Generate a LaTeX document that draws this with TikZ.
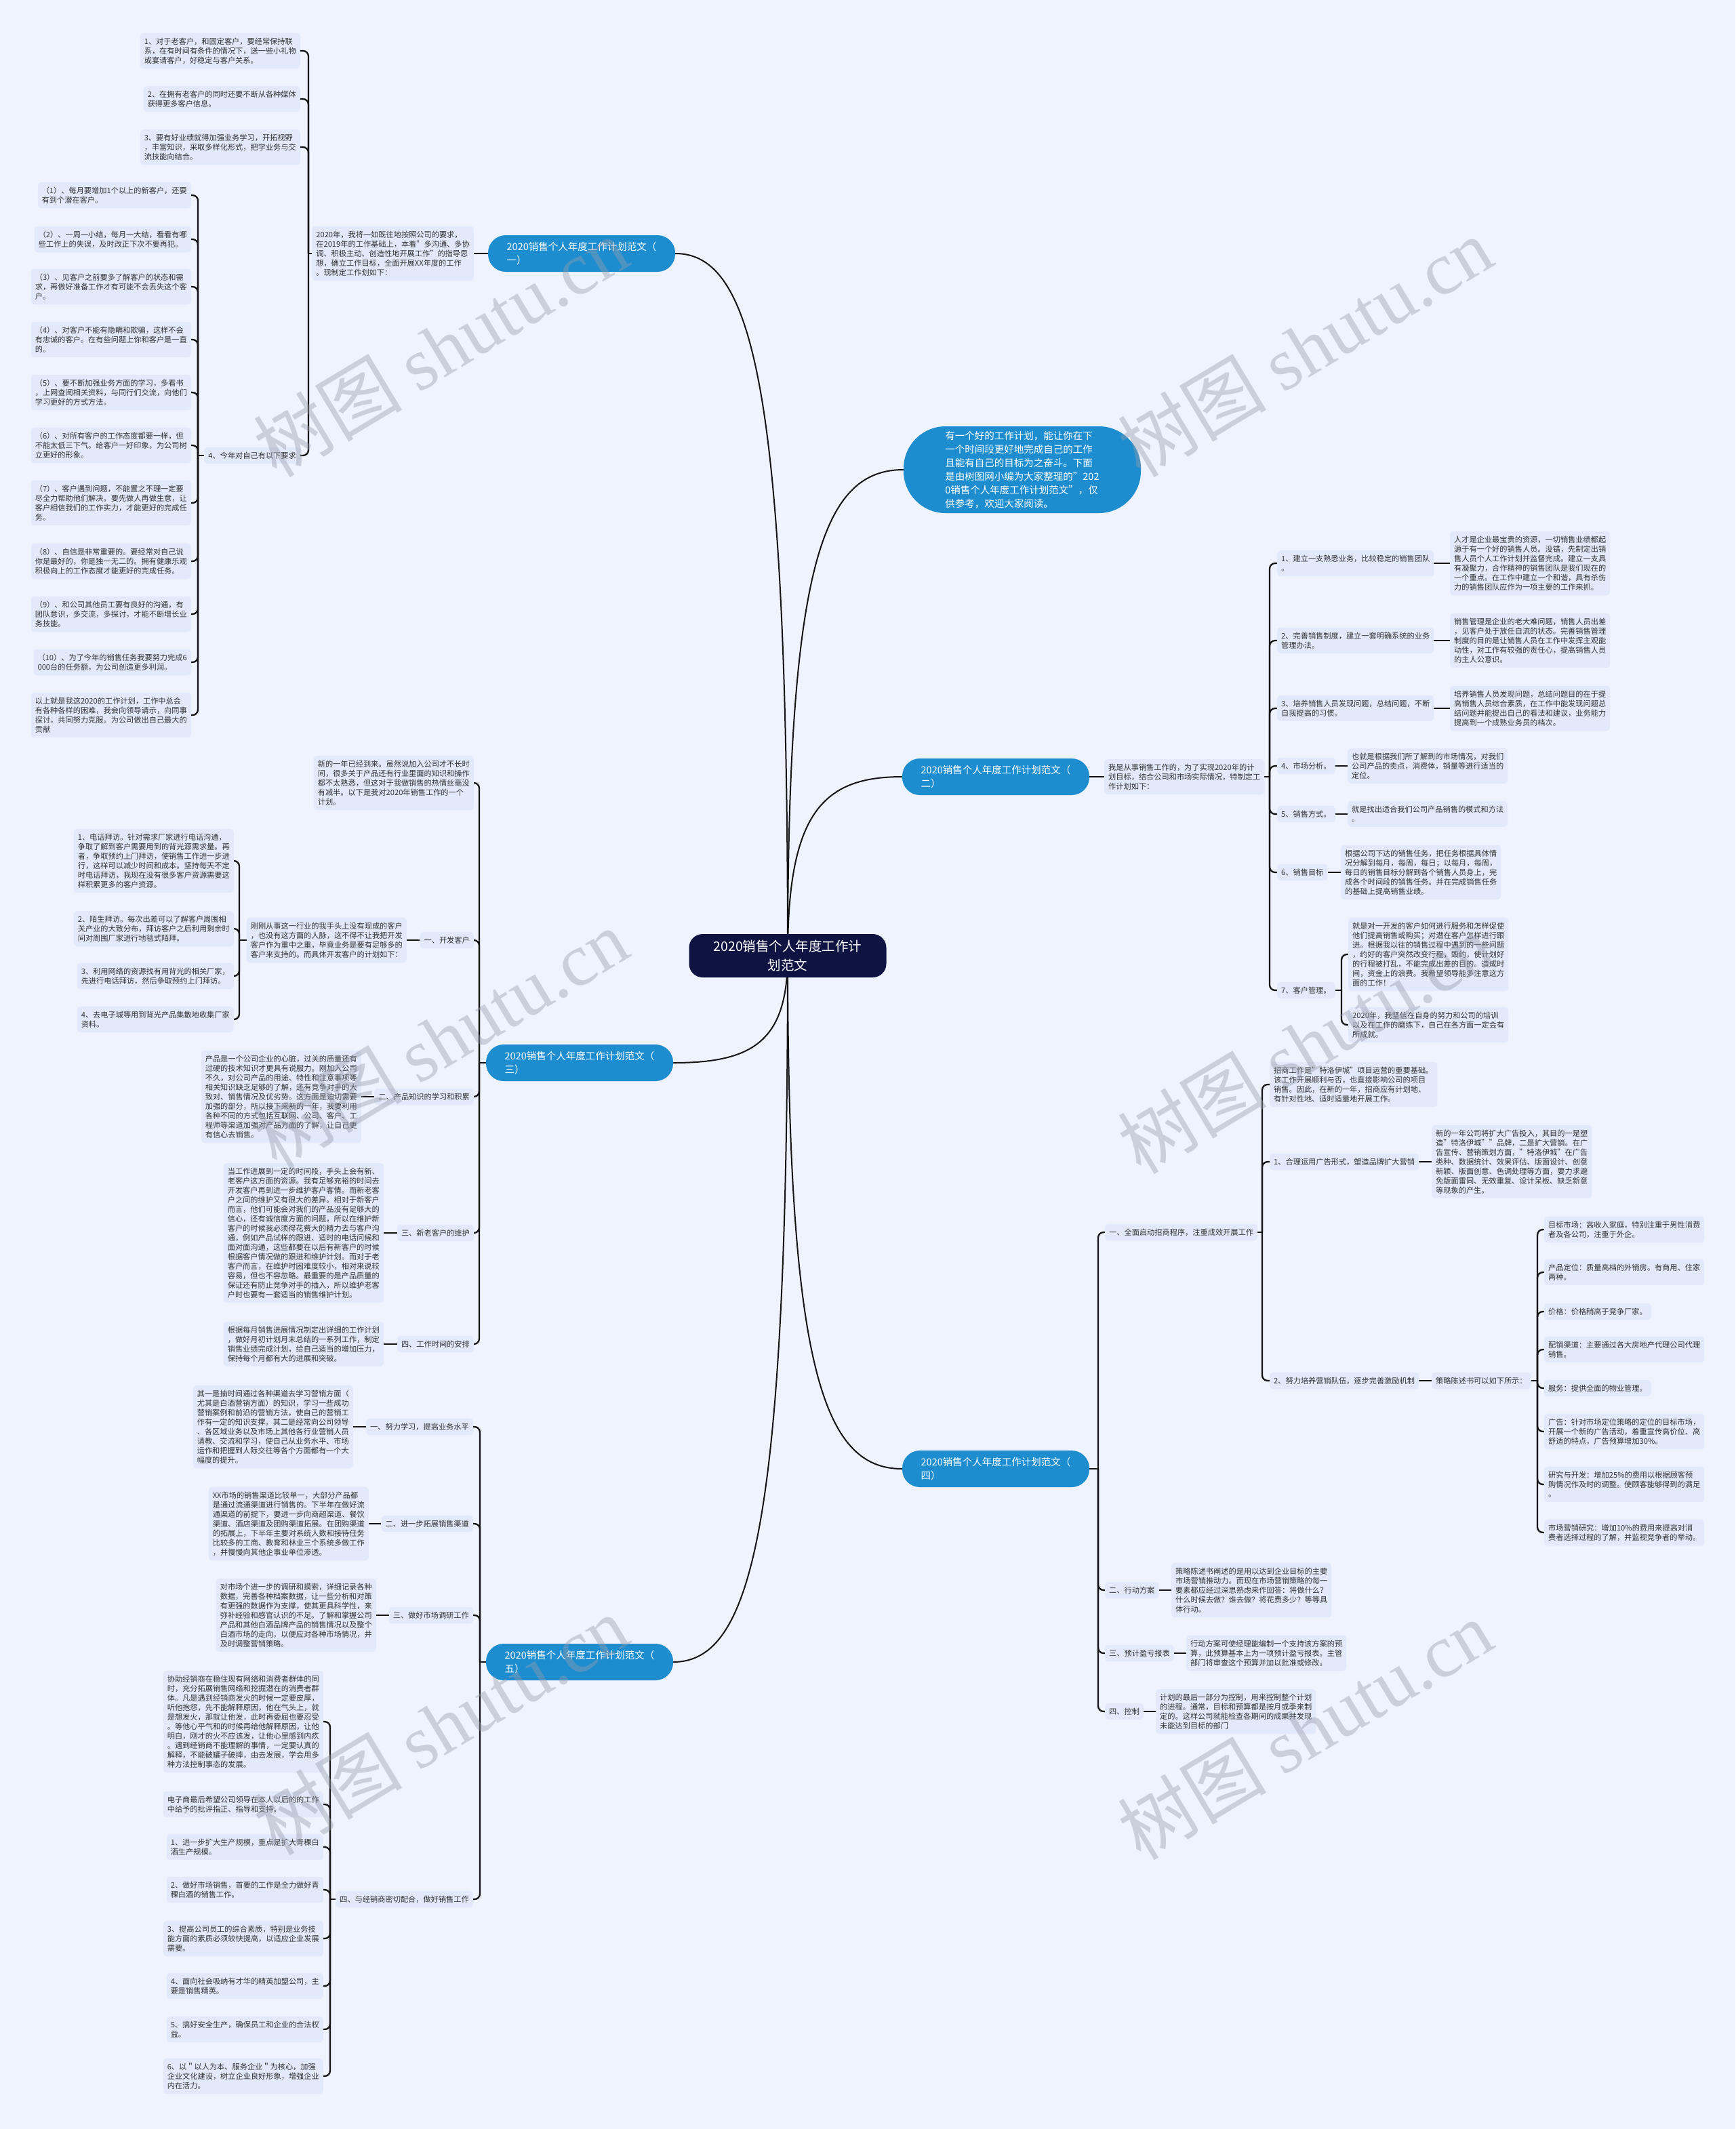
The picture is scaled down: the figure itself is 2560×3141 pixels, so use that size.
\documentclass[tikz,border=0pt]{standalone}
\usepackage{fontspec}
\setmainfont{Noto Sans CJK SC}
\newfontfamily\wmlat{Liberation Serif}
\definecolor{bgc}{RGB}{238,243,253}
\definecolor{boxc}{RGB}{225,233,250}
\definecolor{bluec}{RGB}{29,141,208}
\definecolor{navyc}{RGB}{15,19,66}
\definecolor{txtc}{RGB}{51,51,51}
\definecolor{linec}{RGB}{20,20,20}
\definecolor{wmc}{RGB}{150,158,172}
\pgfdeclarelayer{bg}
\pgfsetlayers{bg,main}
\newcommand\fsml{\fontsize{11.2pt}{14pt}\selectfont}
\newcommand\fbr{\fontsize{14.5pt}{20pt}\selectfont}
\newcommand\fctr{\fontsize{19.5pt}{28pt}\selectfont}
\newcommand\fwm{\fontsize{110pt}{110pt}\selectfont}
\begin{document}
\begin{tikzpicture}[x=1pt,y=-1pt,
 tbox/.style={fill=boxc, rounded corners=5pt, inner xsep=6pt, inner ysep=7pt, align=left, font=\fsml, text=txtc},
 branch/.style={fill=bluec, rounded corners=26pt, minimum width=276pt, minimum height=54pt, inner xsep=24pt, align=left, font=\fbr, text=white},
 conn/.style={draw=linec, line width=2.3pt, rounded corners=8pt},
 mainline/.style={draw=linec, line width=2pt},
 wm/.style={text=wmc, opacity=0.42, rotate=31, font=\fwm}]

% ---------- center ----------
\node[fill=navyc, rounded corners=20pt, minimum width=291pt, minimum height=64pt, align=center, text=white, font=\fctr] (ctr) at (1162,1410) {2020销售个人年度工作计\\划范文};

% ---------- intro ----------
\node[fill=bluec, rounded corners=62pt, minimum width=350pt, minimum height=128pt, align=left, text=white, font=\fbr] (intro) at (1508,693) {有一个好的工作计划，能让你在下\\一个时间段更好地完成自己的工作\\且能有自己的目标为之奋斗。下面\\是由树图网小编为大家整理的"202\\0销售个人年度工作计划范文"，仅\\供参考，欢迎大家阅读。};

% ---------- branch 1 ----------
\node[branch] (B1) at (858,374) {2020销售个人年度工作计划范文（\\一）};
\node[tbox,anchor=east] (T1) at (699,374) {2020年，我将一如既往地按照公司的要求，\\在2019年的工作基础上，本着"多沟通、多协\\调、积极主动、创造性地开展工作"的指导思\\想，确立工作目标，全面开展XX年度的工作\\。现制定工作划如下：};
\coordinate (sT1) at (455,374);
\node[tbox,anchor=east] (a1) at (443,75) {1、对于老客户，和固定客户，要经常保持联\\系，在有时间有条件的情况下，送一些小礼物\\或宴请客户，好稳定与客户关系。};
\node[tbox,anchor=east] (a2) at (443,146) {2、在拥有老客户的同时还要不断从各种媒体\\获得更多客户信息。};
\node[tbox,anchor=east] (a3) at (443,217) {3、要有好业绩就得加强业务学习，开拓视野\\，丰富知识，采取多样化形式，把学业务与交\\流技能向结合。};
\node[tbox,anchor=east] (a4) at (443,672) {4、今年对自己有以下要求};
\coordinate (sa4) at (292,672);
\node[tbox,anchor=east] (b1) at (282,288) {（1）、每月要增加1个以上的新客户，还要\\有到个潜在客户。};
\node[tbox,anchor=east] (b2) at (282,353) {（2）、一周一小结，每月一大结，看看有哪\\些工作上的失误，及时改正下次不要再犯。};
\node[tbox,anchor=east] (b3) at (282,423) {（3）、见客户之前要多了解客户的状态和需\\求，再做好准备工作才有可能不会丢失这个客\\户。};
\node[tbox,anchor=east] (b4) at (282,501) {（4）、对客户不能有隐瞒和欺骗，这样不会\\有忠诚的客户。在有些问题上你和客户是一直\\的。};
\node[tbox,anchor=east] (b5) at (282,579) {（5）、要不断加强业务方面的学习，多看书\\，上网查阅相关资料，与同行们交流，向他们\\学习更好的方式方法。};
\node[tbox,anchor=east] (b6) at (282,657) {（6）、对所有客户的工作态度都要一样，但\\不能太低三下气。给客户一好印象，为公司树\\立更好的形象。};
\node[tbox,anchor=east] (b7) at (282,742) {（7）、客户遇到问题，不能置之不理一定要\\尽全力帮助他们解决。要先做人再做生意，让\\客户相信我们的工作实力，才能更好的完成任\\务。};
\node[tbox,anchor=east] (b8) at (282,828) {（8）、自信是非常重要的。要经常对自己说\\你是最好的，你是独一无二的。拥有健康乐观\\积极向上的工作态度才能更好的完成任务。};
\node[tbox,anchor=east] (b9) at (282,906) {（9）、和公司其他员工要有良好的沟通，有\\团队意识，多交流，多探讨，才能不断增长业\\务技能。};
\node[tbox,anchor=east] (b10) at (282,977) {（10）、为了今年的销售任务我要努力完成6\\000台的任务额，为公司创造更多利润。};
\node[tbox,anchor=east] (b11) at (282,1055) {以上就是我这2020的工作计划，工作中总会\\有各种各样的困难，我会向领导请示，向同事\\探讨，共同努力克服。为公司做出自己最大的\\贡献};

% ---------- branch 2 ----------
\node[branch] (B2) at (1469,1146) {2020销售个人年度工作计划范文（\\二）};
\node[tbox,anchor=west] (T2) at (1629,1146) {我是从事销售工作的，为了实现2020年的计\\划目标，结合公司和市场实际情况，特制定工\\作计划如下：};
\coordinate (sT2) at (1873,1146);
\node[tbox,anchor=west] (c1) at (1884,831) {1、建立一支熟悉业务，比较稳定的销售团队\\。};
\node[tbox,anchor=west] (c2) at (1884,945) {2、完善销售制度，建立一套明确系统的业务\\管理办法。};
\node[tbox,anchor=west] (c3) at (1884,1045) {3、培养销售人员发现问题，总结问题，不断\\自我提高的习惯。};
\node[tbox,anchor=west] (c4) at (1884,1130) {4、市场分析。};
\node[tbox,anchor=west] (c5) at (1884,1201) {5、销售方式。};
\node[tbox,anchor=west] (c6) at (1884,1287) {6、销售目标};
\node[tbox,anchor=west] (c7) at (1884,1461) {7、客户管理。};
\node[tbox,anchor=west] (g1) at (2139,831) {人才是企业最宝贵的资源，一切销售业绩都起\\源于有一个好的销售人员。没错，先制定出销\\售人员个人工作计划并监督完成。建立一支具\\有凝聚力，合作精神的销售团队是我们现在的\\一个重点。在工作中建立一个和谐，具有杀伤\\力的销售团队应作为一项主要的工作来抓。};
\node[tbox,anchor=west] (g2) at (2139,945) {销售管理是企业的老大难问题，销售人员出差\\，见客户处于放任自流的状态。完善销售管理\\制度的目的是让销售人员在工作中发挥主观能\\动性，对工作有较强的责任心，提高销售人员\\的主人公意识。};
\node[tbox,anchor=west] (g3) at (2139,1045) {培养销售人员发现问题，总结问题目的在于提\\高销售人员综合素质，在工作中能发现问题总\\结问题并能提出自己的看法和建议，业务能力\\提高到一个成熟业务员的档次。};
\node[tbox,anchor=west] (g4) at (1988,1130) {也就是根据我们所了解到的市场情况，对我们\\公司产品的卖点，消费体，销量等进行适当的\\定位。};
\node[tbox,anchor=west] (g5) at (1988,1201) {就是找出适合我们公司产品销售的模式和方法\\。};
\node[tbox,anchor=west] (g6) at (1978,1287) {根据公司下达的销售任务，把任务根据具体情\\况分解到每月，每周，每日；以每月，每周，\\每日的销售目标分解到各个销售人员身上，完\\成各个时间段的销售任务。并在完成销售任务\\的基础上提高销售业绩。};
\coordinate (sc7) at (1979,1461);
\node[tbox,anchor=west] (g7a) at (1989,1408) {就是对一开发的客户如何进行服务和怎样促使\\他们提高销售或购买；对潜在客户怎样进行跟\\进。根据我以往的销售过程中遇到的一些问题\\，约好的客户突然改变行程，毁约，使计划好\\的行程被打乱，不能完成出差的目的。造成时\\间，资金上的浪费。我希望领导能多注意这方\\面的工作！};
\node[tbox,anchor=west] (g7b) at (1989,1512) {2020年，我坚信在自身的努力和公司的培训\\以及在工作的磨练下，自己在各方面一定会有\\所成就。};

% ---------- branch 3 ----------
\node[branch] (B3) at (855,1568) {2020销售个人年度工作计划范文（\\三）};
\coordinate (sB3) at (707,1568);
\node[tbox,anchor=east] (k0) at (699,1155) {新的一年已经到来。虽然说加入公司才不长时\\间，很多关于产品还有行业里面的知识和操作\\都不太熟悉，但这对于我做销售的热情丝毫没\\有减半。以下是我对2020年销售工作的一个\\计划。};
\node[tbox,anchor=east] (k1) at (699,1387) {一、开发客户};
\node[tbox,anchor=east] (k1t) at (600,1387) {刚刚从事这一行业的我手头上没有现成的客户\\，也没有这方面的人脉，这不得不让我把开发\\客户作为重中之重，毕竟业务是要有足够多的\\客户来支持的。而具体开发客户的计划如下：};
\coordinate (sk1t) at (353,1387);
\node[tbox,anchor=east] (i1) at (345,1270) {1、电话拜访。针对需求厂家进行电话沟通，\\争取了解到客户需要用到的背光源需求量。再\\者，争取预约上门拜访，使销售工作进一步进\\行，这样可以减少时间和成本。坚持每天不定\\时电话拜访，我现在没有很多客户资源需要这\\样积累更多的客户资源。};
\node[tbox,anchor=east] (i2) at (345,1370) {2、陌生拜访。每次出差可以了解客户周围相\\关产业的大致分布，拜访客户之后利用剩余时\\间对周围厂家进行地毯式陌拜。};
\node[tbox,anchor=east] (i3) at (345,1440) {3、利用网络的资源找有用背光的相关厂家，\\先进行电话拜访，然后争取预约上门拜访。};
\node[tbox,anchor=east] (i4) at (345,1504) {4、去电子城等用到背光产品集散地收集厂家\\资料。};
\node[tbox,anchor=east] (k2) at (699,1618) {二、产品知识的学习和积累};
\node[tbox,anchor=east] (k2t) at (533,1618) {产品是一个公司企业的心脏，过关的质量还有\\过硬的技术知识才更具有说服力。刚加入公司\\不久，对公司产品的用途、特性和注意事项等\\相关知识缺乏足够的了解，还有竞争对手的大\\致对、销售情况及优劣势。这方面是迫切需要\\加强的部分，所以接下来新的一年，我要利用\\各种不同的方式包括互联网、公司、客户、工\\程师等渠道加强对产品方面的了解，让自己更\\有信心去销售。};
\node[tbox,anchor=east] (k3) at (699,1819) {三、新老客户的维护};
\node[tbox,anchor=east] (k3t) at (566,1819) {当工作进展到一定的时间段，手头上会有新、\\老客户这方面的资源。我有足够充裕的时间去\\开发客户再到进一步维护客户客情。而新老客\\户之间的维护又有很大的差异。相对于新客户\\而言，他们可能会对我们的产品没有足够大的\\信心，还有诚信度方面的问题，所以在维护新\\客户的时候我必须得花费大的精力去与客户沟\\通，例如产品试样的跟进、适时的电话问候和\\面对面沟通，这些都要在以后有新客户的时候\\根据客户情况做的跟进和维护计划。而对于老\\客户而言，在维护时困难度较小，相对来说较\\容易，但也不容忽略。最重要的是产品质量的\\保证还有防止竞争对手的插入，所以维护老客\\户时也要有一套适当的销售维护计划。};
\node[tbox,anchor=east] (k4) at (699,1983) {四、工作时间的安排};
\node[tbox,anchor=east] (k4t) at (566,1983) {根据每月销售进展情况制定出详细的工作计划\\，做好月初计划月末总结的一系列工作，制定\\销售业绩完成计划，给自己适当的增加压力，\\保持每个月都有大的进展和突破。};

% ---------- branch 4 ----------
\node[branch] (B4) at (1469,2167) {2020销售个人年度工作计划范文（\\四）};
\coordinate (sB4) at (1620,2167);
\node[tbox,anchor=west] (q1) at (1630,1818) {一、全面启动招商程序，注重成效开展工作};
\coordinate (sq1) at (1862,1818);
\node[tbox,anchor=west] (r1) at (1873,1600) {招商工作是"特洛伊城"项目运营的重要基础。\\该工作开展顺利与否，也直接影响公司的项目\\销售。因此，在新的一年，招商应有计划地、\\有针对性地、适时适量地开展工作。};
\node[tbox,anchor=west] (r2) at (1873,1714) {1、合理运用广告形式，塑造品牌扩大营销};
\node[tbox,anchor=west] (r2t) at (2112,1714) {新的一年公司将扩大广告投入，其目的一是塑\\造"特洛伊城""品牌，二是扩大营销。在广\\告宣传、营销策划方面，"特洛伊城"在广告\\类种、数据统计、效果评估、版面设计、创意\\新颖、版面创意、色调处理等方面，要力求避\\免版面雷同、无效重复、设计呆板、缺乏新意\\等现象的产生。};
\node[tbox,anchor=west] (r3) at (1873,2037) {2、努力培养营销队伍，逐步完善激励机制};
\node[tbox,anchor=west] (r3t) at (2112,2037) {策略陈述书可以如下所示：};
\coordinate (sr3t) at (2268,2037);
\node[tbox,anchor=west] (s1) at (2278,1814) {目标市场：高收入家庭，特别注重于男性消费\\者及各公司，注重于外企。};
\node[tbox,anchor=west] (s2) at (2278,1877) {产品定位：质量高档的外销房。有商用、住家\\两种。};
\node[tbox,anchor=west] (s3) at (2278,1935) {价格：价格稍高于竞争厂家。};
\node[tbox,anchor=west] (s4) at (2278,1991) {配销渠道：主要通过各大房地产代理公司代理\\销售。};
\node[tbox,anchor=west] (s5) at (2278,2048) {服务：提供全面的物业管理。};
\node[tbox,anchor=west] (s6) at (2278,2112) {广告：针对市场定位策略的定位的目标市场，\\开展一个新的广告活动，着重宣传高价位、高\\舒适的特点，广告预算增加30\%。};
\node[tbox,anchor=west] (s7) at (2278,2190) {研究与开发：增加25\%的费用以根据顾客预\\购情况作及时的调整。使顾客能够得到的满足\\。};
\node[tbox,anchor=west] (s8) at (2278,2261) {市场营销研究：增加10\%的费用来提高对消\\费者选择过程的了解，并监视竞争者的举动。};
\node[tbox,anchor=west] (q2) at (1630,2346) {二、行动方案};
\node[tbox,anchor=west] (q2t) at (1728,2346) {策略陈述书阐述的是用以达到企业目标的主要\\市场营销推动力。而现在市场营销策略的每一\\要素都应经过深思熟虑来作回答：将做什么？\\什么时候去做？谁去做？将花费多少？等等具\\体行动。};
\node[tbox,anchor=west] (q3) at (1630,2439) {三、预计盈亏报表};
\node[tbox,anchor=west] (q3t) at (1750,2439) {行动方案可使经理能编制一个支持该方案的预\\算，此预算基本上为一项预计盈亏报表。主管\\部门将审查这个预算并加以批准或修改。};
\node[tbox,anchor=west] (q4) at (1630,2525) {四、控制};
\node[tbox,anchor=west] (q4t) at (1705,2525) {计划的最后一部分为控制，用来控制整个计划\\的进程。通常，目标和预算都是按月或季来制\\定的。这样公司就能检查各期间的成果并发现\\未能达到目标的部门};

% ---------- branch 5 ----------
\node[branch] (B5) at (855,2452) {2020销售个人年度工作计划范文（\\五）};
\coordinate (sB5) at (708,2452);
\node[tbox,anchor=east] (p1) at (698,2105) {一、努力学习，提高业务水平};
\node[tbox,anchor=east] (p1t) at (521,2105) {其一是抽时间通过各种渠道去学习营销方面（\\尤其是白酒营销方面）的知识，学习一些成功\\营销案例和前沿的营销方法，使自己的营销工\\作有一定的知识支撑。其二是经常向公司领导\\、各区域业务以及市场上其他各行业营销人员\\请教、交流和学习，使自己从业务水平、市场\\运作和把握到人际交往等各个方面都有一个大\\幅度的提升。};
\node[tbox,anchor=east] (p2) at (698,2248) {二、进一步拓展销售渠道};
\node[tbox,anchor=east] (p2t) at (544,2248) {XX市场的销售渠道比较单一，大部分产品都\\是通过流通渠道进行销售的。下半年在做好流\\通渠道的前提下，要进一步向商超渠道、餐饮\\渠道、酒店渠道及团购渠道拓展。在团购渠道\\的拓展上，下半年主要对系统人数和接待任务\\比较多的工商、教育和林业三个系统多做工作\\，并慢慢向其他企事业单位渗透。};
\node[tbox,anchor=east] (p3) at (698,2383) {三、做好市场调研工作};
\node[tbox,anchor=east] (p3t) at (555,2383) {对市场个进一步的调研和摸索，详细记录各种\\数据，完善各种档案数据，让一些分析和对策\\有更强的数据作为支撑，使其更具科学性，来\\弥补经验和感官认识的不足。了解和掌握公司\\产品和其他白酒品牌产品的销售情况以及整个\\白酒市场的走向，以便应对各种市场情况，并\\及时调整营销策略。};
\node[tbox,anchor=east] (p4) at (698,2802) {四、与经销商密切配合，做好销售工作};
\coordinate (sp4) at (487,2802);
\node[tbox,anchor=east] (v1) at (477,2540) {协助经销商在稳住现有网络和消费者群体的同\\时，充分拓展销售网络和挖掘潜在的消费者群\\体。凡是遇到经销商发火的时候一定要皮厚，\\听他抱怨，先不能解释原因，他在气头上，就\\是想发火，那就让他发，此时再委屈也要忍受\\。等他心平气和的时候再给他解释原因，让他\\明白，刚才的火不应该发，让他心里感到内疚\\。遇到经销商不能理解的事情，一定要认真的\\解释，不能破罐子破摔，由去发展，学会用多\\种方法控制事态的发展。};
\node[tbox,anchor=east] (v2) at (477,2662) {电子商最后希望公司领导在本人以后的的工作\\中给予的批评指正、指导和支持。};
\node[tbox,anchor=east] (v3) at (477,2725) {1、进一步扩大生产规模，重点是扩大青稞白\\酒生产规模。};
\node[tbox,anchor=east] (v4) at (477,2788) {2、做好市场销售，首要的工作是全力做好青\\稞白酒的销售工作。};
\node[tbox,anchor=east] (v5) at (477,2860) {3、提高公司员工的综合素质，特别是业务技\\能方面的素质必须较快提高，以适应企业发展\\需要。};
\node[tbox,anchor=east] (v6) at (477,2930) {4、面向社会吸纳有才华的精英加盟公司，主\\要是销售精英。};
\node[tbox,anchor=east] (v7) at (477,2994) {5、搞好安全生产，确保员工和企业的合法权\\益。};
\node[tbox,anchor=east] (v8) at (477,3063) {6、以＂以人为本、服务企业＂为核心，加强\\企业文化建设，树立企业良好形象，增强企业\\内在活力。};

% ---------- watermarks ----------
\node[wm] (wm1) at (650,512) {树图 {\wmlat shutu.cn}};
\node[wm] (wm2) at (1925,512) {树图 {\wmlat shutu.cn}};
\node[wm] (wm3) at (650,1532) {树图 {\wmlat shutu.cn}};
\node[wm] (wm4) at (1925,1540) {树图 {\wmlat shutu.cn}};
\node[wm] (wm5) at (650,2545) {树图 {\wmlat shutu.cn}};
\node[wm] (wm6) at (1925,2552) {树图 {\wmlat shutu.cn}};

% ---------- connectors ----------
\begin{pgfonlayer}{bg}
\fill[bgc] (0,0) rectangle (2560,3141);
\draw[mainline] (ctr.center) .. controls (1162,581) and (1112,374) .. (B1.east);
\draw[mainline] (ctr.center) .. controls (1162,836) and (1213,693) .. (intro.west);
\draw[mainline] (ctr.center) .. controls (1162,1199) and (1214,1146) .. (B2.west);
\draw[mainline] (ctr.center) .. controls (1162,1536) and (1111,1568) .. (B3.east);
\draw[mainline] (ctr.center) .. controls (1162,2016) and (1214,2167) .. (B4.west);
\draw[mainline] (ctr.center) .. controls (1162,2244) and (1111,2452) .. (B5.east);
% branch 1
\draw[conn] (B1.west) -- (T1.east);
\draw[conn] (T1.west) -- (sT1);
\foreach \c in {a1,a2,a3,a4} {\draw[conn] (sT1) |- (\c.east);}
\draw[conn] (a4.west) -- (sa4);
\foreach \c in {b1,b2,b3,b4,b5,b6,b7,b8,b9,b10,b11} {\draw[conn] (sa4) |- (\c.east);}
% branch 2
\draw[conn] (B2.east) -- (T2.west);
\draw[conn] (T2.east) -- (sT2);
\foreach \c in {c1,c2,c3,c4,c5,c6,c7} {\draw[conn] (sT2) |- (\c.west);}
\draw[conn] (c1.east) -- (g1.west);
\draw[conn] (c2.east) -- (g2.west);
\draw[conn] (c3.east) -- (g3.west);
\draw[conn] (c4.east) -- (g4.west);
\draw[conn] (c5.east) -- (g5.west);
\draw[conn] (c6.east) -- (g6.west);
\draw[conn] (c7.east) -- (sc7);
\foreach \c in {g7a,g7b} {\draw[conn] (sc7) |- (\c.west);}
% branch 3
\draw[conn] (B3.west) -- (sB3);
\foreach \c in {k0,k1,k2,k3,k4} {\draw[conn] (sB3) |- (\c.east);}
\draw[conn] (k1.west) -- (k1t.east);
\draw[conn] (k1t.west) -- (sk1t);
\foreach \c in {i1,i2,i3,i4} {\draw[conn] (sk1t) |- (\c.east);}
\draw[conn] (k2.west) -- (k2t.east);
\draw[conn] (k3.west) -- (k3t.east);
\draw[conn] (k4.west) -- (k4t.east);
% branch 4
\draw[conn] (B4.east) -- (sB4);
\foreach \c in {q1,q2,q3,q4} {\draw[conn] (sB4) |- (\c.west);}
\draw[conn] (q1.east) -- (sq1);
\foreach \c in {r1,r2,r3} {\draw[conn] (sq1) |- (\c.west);}
\draw[conn] (r2.east) -- (r2t.west);
\draw[conn] (r3.east) -- (r3t.west);
\draw[conn] (r3t.east) -- (sr3t);
\foreach \c in {s1,s2,s3,s4,s5,s6,s7,s8} {\draw[conn] (sr3t) |- (\c.west);}
\draw[conn] (q2.east) -- (q2t.west);
\draw[conn] (q3.east) -- (q3t.west);
\draw[conn] (q4.east) -- (q4t.west);
% branch 5
\draw[conn] (B5.west) -- (sB5);
\foreach \c in {p1,p2,p3,p4} {\draw[conn] (sB5) |- (\c.east);}
\draw[conn] (p1.west) -- (p1t.east);
\draw[conn] (p2.west) -- (p2t.east);
\draw[conn] (p3.west) -- (p3t.east);
\draw[conn] (p4.west) -- (sp4);
\foreach \c in {v1,v2,v3,v4,v5,v6,v7,v8} {\draw[conn] (sp4) |- (\c.east);}
\end{pgfonlayer}
\end{tikzpicture}
\end{document}
